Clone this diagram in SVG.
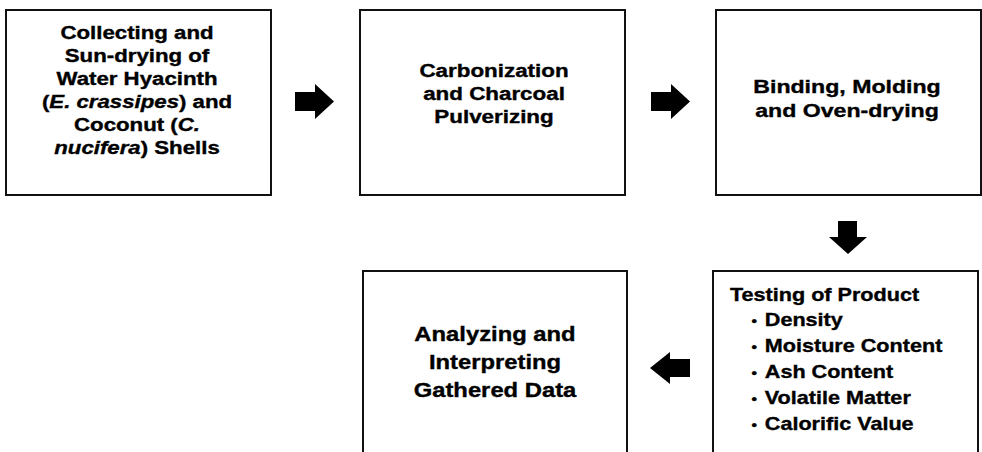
<svg xmlns="http://www.w3.org/2000/svg" width="982" height="452" viewBox="0 0 982 452">
<style>
.box{fill:#fff;stroke:#111;stroke-width:2}
.t{font-family:"Liberation Sans",Arial,sans-serif;font-weight:bold;fill:#000;stroke:#000;stroke-width:0.35;text-anchor:middle}
.l{font-family:"Liberation Sans",Arial,sans-serif;font-weight:bold;fill:#000;stroke:#000;stroke-width:0.35}
.i{font-style:italic}
.b{font-size:13px}
.arr{fill:#000}
</style>
<rect width="982" height="452" fill="#fff"/>
<g id="connectors">
<polygon class="arr" points="295,92 315,92 315,84 334,101.5 315,119 315,111 295,111"/>
<polygon class="arr" points="651,92 671,92 671,84 690,101.5 671,119 671,111 651,111"/>
<polygon class="arr" points="838,221 857,221 857,237 867,237 848,254 829,237 838,237"/>
<polygon class="arr" points="690,359 670,359 670,352 650,368 670,384 670,377 690,377"/>
</g>
<g id="collecting">
<rect class="box" x="6" y="10" width="265" height="185"/>
<g transform="translate(137,0) scale(1.27,1)" class="t" font-size="17.5">
<text x="0" y="39">Collecting and</text>
<text x="0" y="62">Sun-drying of</text>
<text x="0" y="85">Water Hyacinth</text>
<text x="0" y="108">(<tspan class="i">E. crassipes</tspan>) and</text>
<text x="0" y="131">Coconut (<tspan class="i">C.</tspan></text>
<text x="0" y="154"><tspan class="i">nucifera</tspan>) Shells</text>
</g>
</g>
<g id="carbonization">
<rect class="box" x="360" y="10" width="265" height="185"/>
<g transform="translate(494,0) scale(1.28,1)" class="t" font-size="17.5">
<text x="0" y="77">Carbonization</text>
<text x="0" y="100">and Charcoal</text>
<text x="0" y="123">Pulverizing</text>
</g>
</g>
<g id="binding">
<rect class="box" x="716" y="10" width="265" height="185"/>
<g transform="translate(847,0) scale(1.25,1)" class="t" font-size="18.5">
<text x="0" y="93">Binding, Molding</text>
<text x="0" y="117">and Oven-drying</text>
</g>
</g>
<g id="testing">
<rect class="box" x="713" y="271" width="265" height="200"/>
<g transform="translate(730,0) scale(1.2,1)" class="l" font-size="18">
<text x="0" y="301">Testing of Product</text>
<text class="b" x="18" y="325">•</text><text x="29" y="326">Density</text>
<text class="b" x="18" y="351">•</text><text x="29" y="352">Moisture Content</text>
<text class="b" x="18" y="377">•</text><text x="29" y="378">Ash Content</text>
<text class="b" x="18" y="403">•</text><text x="29" y="404">Volatile Matter</text>
<text class="b" x="18" y="429">•</text><text x="29" y="430">Calorific Value</text>
</g>
</g>
<g id="analyzing">
<rect class="box" x="363" y="271" width="264" height="200"/>
<g transform="translate(495,0) scale(1.22,1)" class="t" font-size="19.5">
<text x="0" y="341">Analyzing and</text>
<text x="0" y="369">Interpreting</text>
<text x="0" y="397">Gathered Data</text>
</g>
</g>
</svg>
